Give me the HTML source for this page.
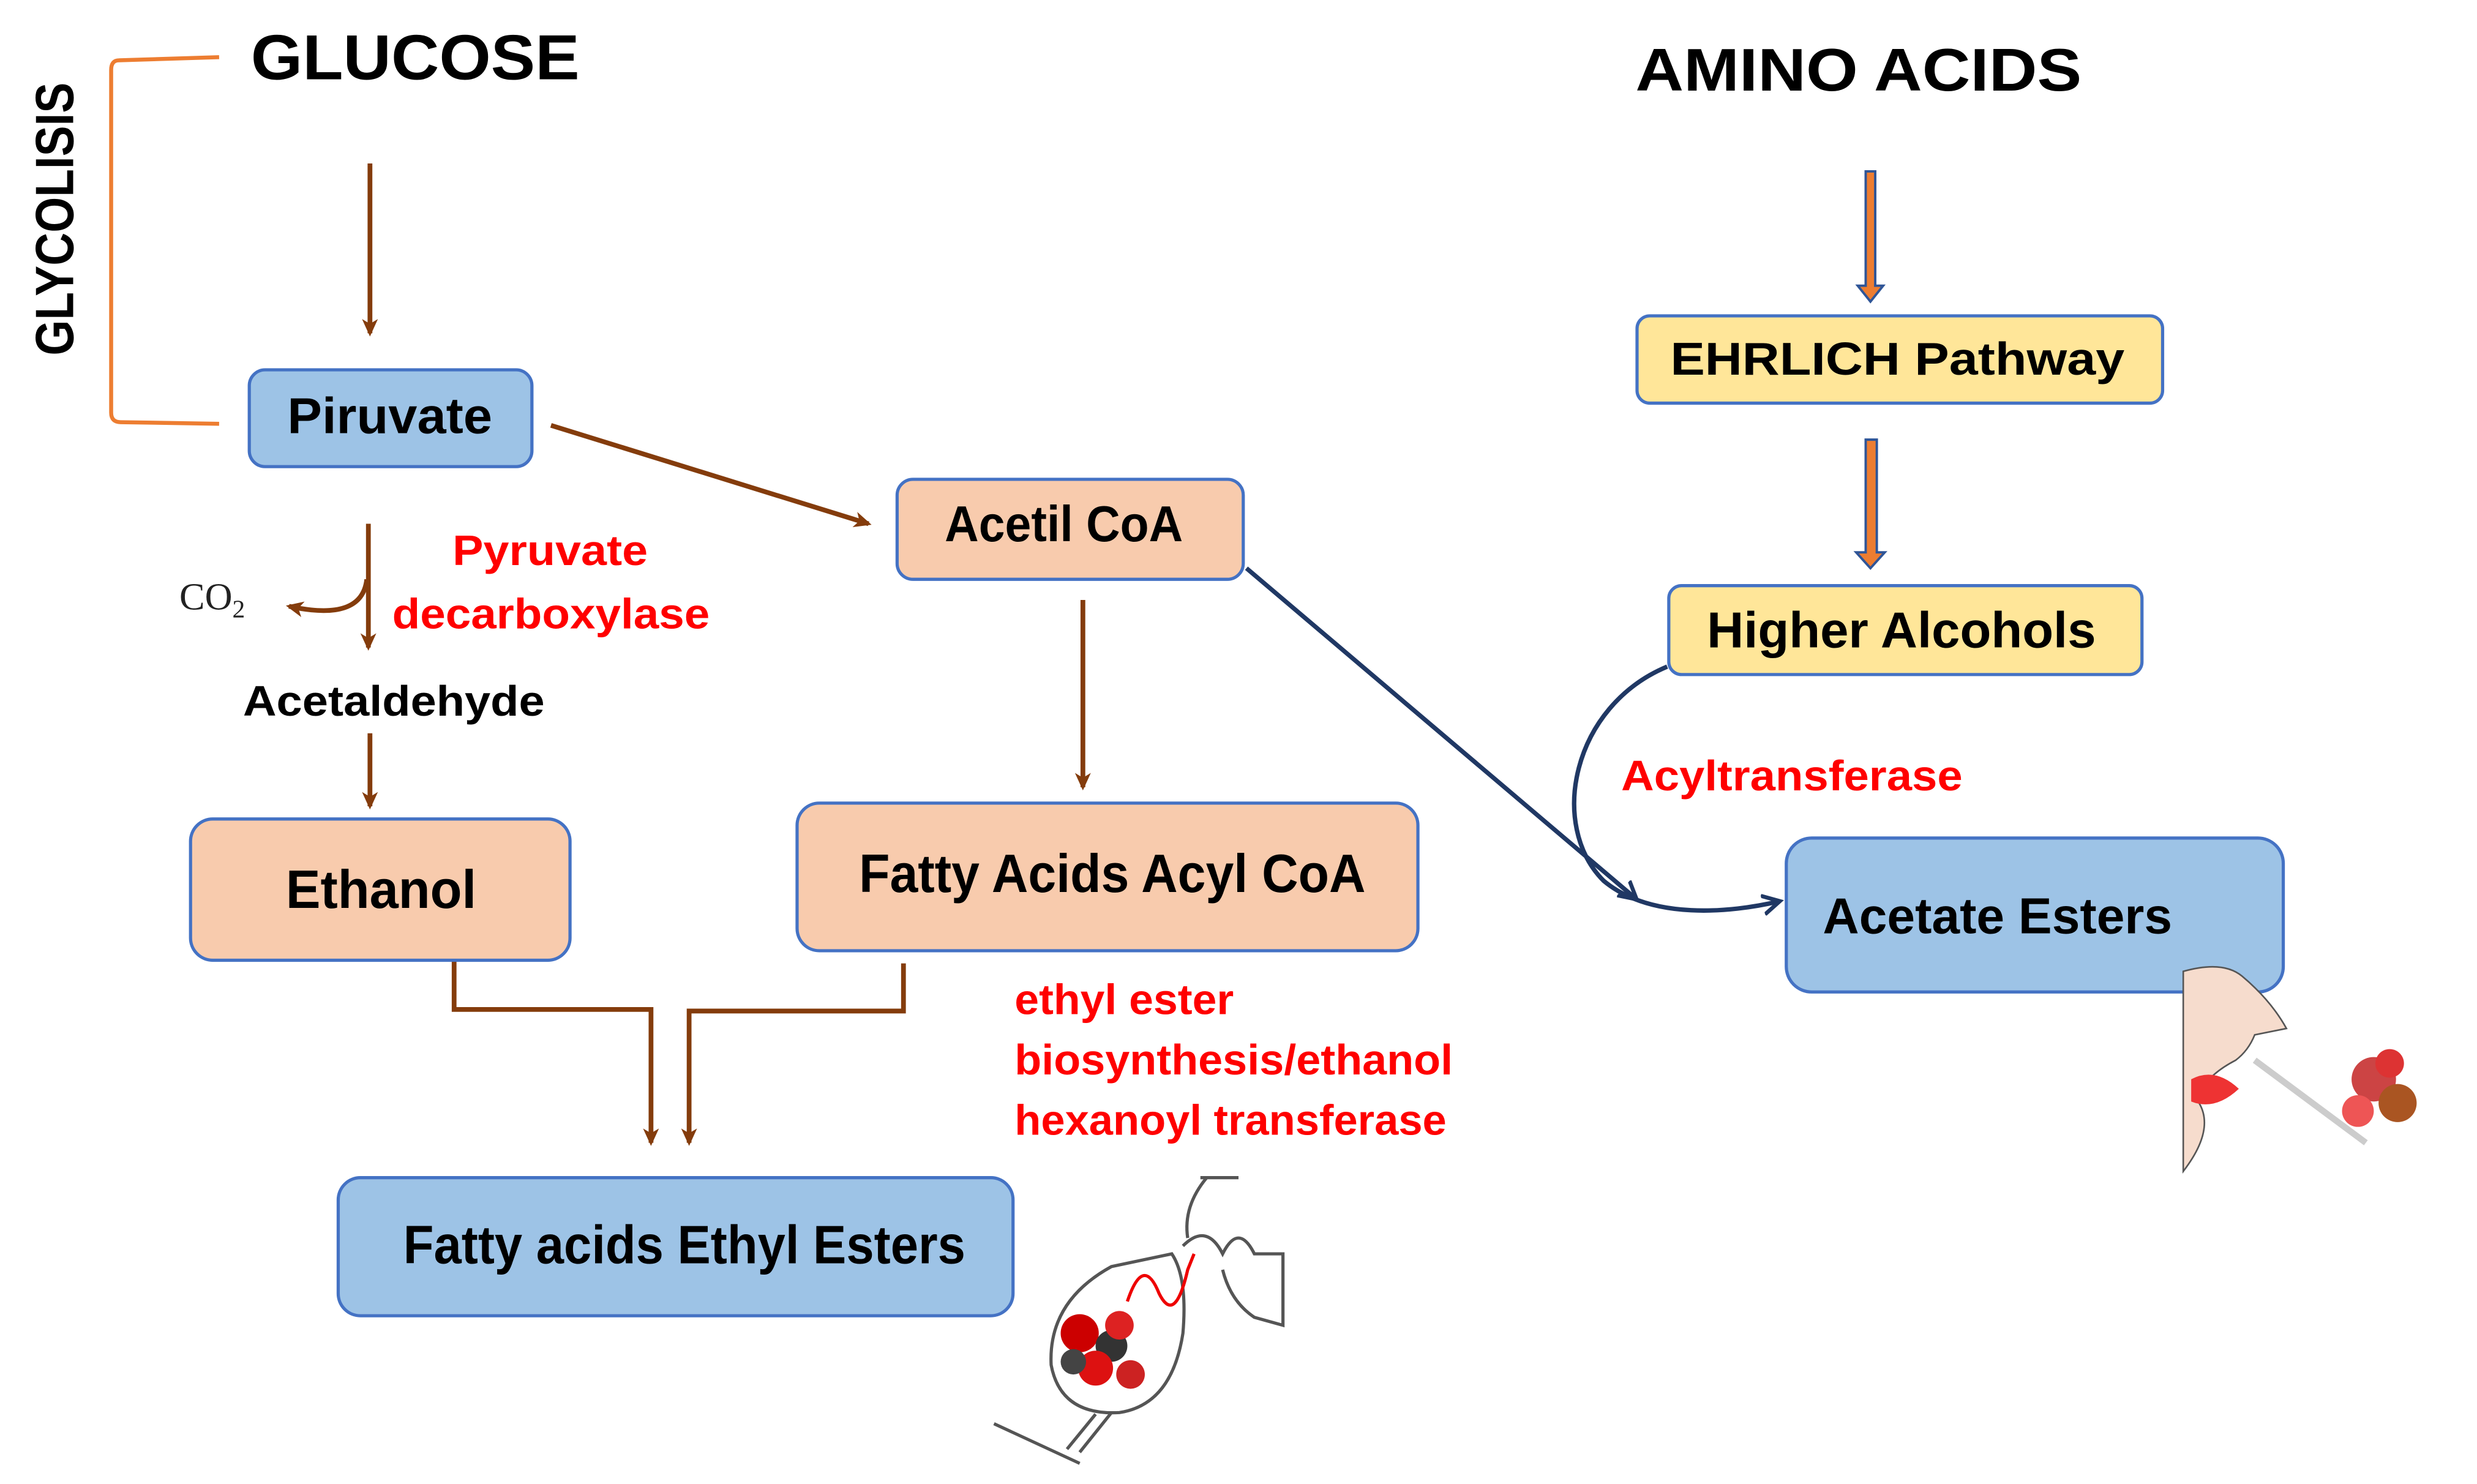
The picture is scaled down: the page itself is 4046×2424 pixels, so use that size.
<!DOCTYPE html>
<html><head><meta charset="utf-8"><style>html,body{margin:0;padding:0;background:#fff}svg{display:block}</style></head>
<body>
<svg width="4046" height="2424" viewBox="0 0 1560 935" preserveAspectRatio="none" xmlns="http://www.w3.org/2000/svg" font-family="Liberation Sans, sans-serif">
<defs>
<marker id="br" markerWidth="12" markerHeight="12" refX="9" refY="6" orient="auto" markerUnits="userSpaceOnUse"><path d="M0,1 L11,6 L0,11 L3,6 z" fill="#843c0c"/></marker>
<marker id="bl" markerWidth="14" markerHeight="14" refX="10" refY="7" orient="auto" markerUnits="userSpaceOnUse"><path d="M0,1 L11,7 L0,13" fill="none" stroke="#203864" stroke-width="2.5"/></marker>
</defs>
<path d="M138,36 L75,38 Q70,38 70,44 L70,260 Q70,266 76,266 L138,267" fill="none" stroke="#ed7d31" stroke-width="2.5"/>
<text transform="translate(46,138) rotate(-90)" font-size="34" font-weight="bold" text-anchor="middle" textLength="172" lengthAdjust="spacingAndGlyphs">GLYCOLISIS</text>
<text x="158" y="50" font-size="40" font-weight="bold" textLength="207" lengthAdjust="spacingAndGlyphs">GLUCOSE</text>
<text x="1030" y="57" font-size="38" font-weight="bold" textLength="281" lengthAdjust="spacingAndGlyphs">AMINO ACIDS</text>

<g stroke="#843c0c" stroke-width="3" fill="none">
<line x1="233" y1="103" x2="233" y2="210" marker-end="url(#br)"/>
<line x1="347" y1="268" x2="547" y2="330" marker-end="url(#br)"/>
<line x1="232" y1="330" x2="232" y2="408" marker-end="url(#br)"/>
<path d="M231,365 Q228,392 182,382" marker-end="url(#br)"/>
<line x1="233" y1="462" x2="233" y2="508" marker-end="url(#br)"/>
<line x1="682" y1="378" x2="682" y2="496" marker-end="url(#br)"/>
<path d="M286,605 L286,636 L410,636 L410,720" marker-end="url(#br)"/>
<path d="M569,607 L569,637 L434,637 L434,720" marker-end="url(#br)"/>
</g>

<g stroke="#4472c4" stroke-width="2">
<rect x="157" y="233" width="178" height="61" rx="10" fill="#9dc3e6"/>
<rect x="565" y="302" width="218" height="63" rx="10" fill="#f8cbad"/>
<rect x="120" y="516" width="239" height="89" rx="14" fill="#f8cbad"/>
<rect x="502" y="506" width="391" height="93" rx="14" fill="#f8cbad"/>
<rect x="213" y="742" width="425" height="87" rx="14" fill="#9dc3e6"/>
<rect x="1031" y="199" width="331" height="55" rx="8" fill="#ffe699"/>
<rect x="1051" y="369" width="298" height="56" rx="8" fill="#ffe699"/>
<rect x="1125" y="528" width="313" height="97" rx="16" fill="#9dc3e6"/>
</g>
<g font-weight="bold" fill="#000">
<text x="181" y="273" font-size="32" textLength="129" lengthAdjust="spacingAndGlyphs">Piruvate</text>
<text x="595" y="341" font-size="32" textLength="150" lengthAdjust="spacingAndGlyphs">Acetil CoA</text>
<text x="153" y="451" font-size="27" textLength="190" lengthAdjust="spacingAndGlyphs">Acetaldehyde</text>
<text x="180" y="572" font-size="34" textLength="120" lengthAdjust="spacingAndGlyphs">Ethanol</text>
<text x="541" y="562" font-size="34" textLength="319" lengthAdjust="spacingAndGlyphs">Fatty Acids Acyl CoA</text>
<text x="254" y="796" font-size="34" textLength="354" lengthAdjust="spacingAndGlyphs">Fatty acids Ethyl Esters</text>
<text x="1052" y="236" font-size="29" textLength="286" lengthAdjust="spacingAndGlyphs">EHRLICH Pathway</text>
<text x="1075" y="408" font-size="32" textLength="245" lengthAdjust="spacingAndGlyphs">Higher Alcohols</text>
<text x="1148" y="588" font-size="32" textLength="220" lengthAdjust="spacingAndGlyphs">Acetate Esters</text>
</g>
<g font-weight="bold" fill="#ff0000" font-size="27">
<text x="285" y="356" textLength="123" lengthAdjust="spacingAndGlyphs">Pyruvate</text>
<text x="247" y="396" textLength="200" lengthAdjust="spacingAndGlyphs">decarboxylase</text>
<text x="639" y="639" textLength="138" lengthAdjust="spacingAndGlyphs">ethyl ester</text>
<text x="639" y="677" textLength="276" lengthAdjust="spacingAndGlyphs">biosynthesis/ethanol</text>
<text x="639" y="715" textLength="272" lengthAdjust="spacingAndGlyphs">hexanoyl transferase</text>
<text x="1021" y="498" textLength="215" lengthAdjust="spacingAndGlyphs">Acyltransferase</text>
</g>
<text x="113" y="384" font-family="Liberation Serif, serif" font-size="24" fill="#222">CO<tspan font-size="16" dy="5">2</tspan></text>

<g fill="#ed7d31" stroke="#2f5597" stroke-width="1.5">
<path d="M1175,108 L1181,108 L1181,180 L1186,180 L1178,190 L1170,180 L1175,180 Z"/>
<path d="M1175,277 L1182,277 L1182,348 L1187,348 L1178,358 L1169,348 L1175,348 Z"/>
</g>
<g stroke="#203864" stroke-width="2.8" fill="none">
<line x1="785" y1="358" x2="1030" y2="566" marker-end="url(#bl)"/>
<path d="M1050,420 C990,445 975,520 1010,555 C1040,580 1090,575 1120,568" marker-end="url(#bl)"/>
</g>

<g stroke="#555" stroke-width="2" fill="none">
<path d="M700,798 Q660,820 662,860 Q668,892 705,890 Q738,885 745,840 Q748,805 738,790 Z" fill="#fff"/>
<line x1="700" y1="890" x2="680" y2="915"/>
<line x1="690" y1="891" x2="672" y2="913"/>
<line x1="626" y1="897" x2="680" y2="922"/>
<path d="M745,785 Q760,770 770,790 Q780,770 790,790 L808,790 L808,835 L790,830 Q775,820 770,800" />
<path d="M756,742 L780,742 M760,742 Q745,760 748,780"/>
</g>
<g>
<circle cx="680" cy="840" r="12" fill="#c00"/><circle cx="700" cy="848" r="10" fill="#333"/><circle cx="690" cy="862" r="11" fill="#d11"/><circle cx="712" cy="866" r="9" fill="#c22"/><circle cx="676" cy="858" r="8" fill="#444"/><circle cx="705" cy="835" r="9" fill="#d22"/>
</g>
<path d="M710,820 Q720,790 730,815 Q740,835 748,800 L752,790" stroke="#e00" stroke-width="2" fill="none"/>
<path d="M1375,612 Q1400,605 1412,615 Q1430,630 1440,648 L1420,652 Q1416,662 1408,668 Q1385,680 1385,695 Q1395,712 1375,738 Z" fill="#f6dccd" stroke="#555" stroke-width="1"/>
<path d="M1380,680 Q1395,672 1410,686 Q1395,700 1380,694 Z" fill="#e33"/>
<line x1="1420" y1="668" x2="1490" y2="720" stroke="#ccc" stroke-width="4"/>
<g><circle cx="1495" cy="680" r="14" fill="#c44"/><circle cx="1510" cy="695" r="12" fill="#a52"/><circle cx="1485" cy="700" r="10" fill="#e55"/><circle cx="1505" cy="670" r="9" fill="#d33"/></g>
</svg>
</body></html>
